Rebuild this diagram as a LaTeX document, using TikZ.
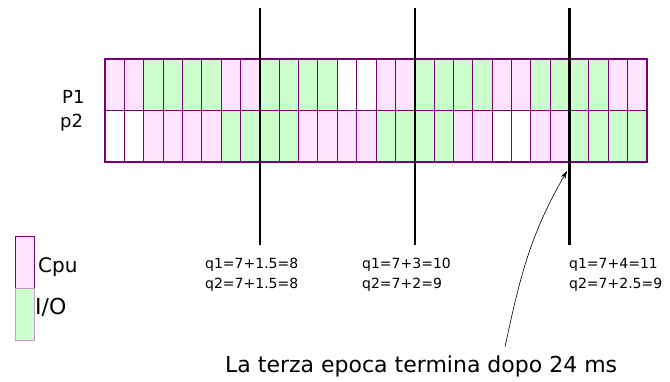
\documentclass[tikz,border=0pt]{standalone}
\usepackage{fontspec}
\setmainfont{DejaVu Sans}
\usepackage{xcolor}
\usetikzlibrary{arrows.meta}
\definecolor{cpurosa}{RGB}{255,228,255}
\definecolor{iover}{RGB}{204,255,204}
\definecolor{bordo}{RGB}{120,0,120}
\def\cella{19.357}
\def\alto{51.5}

\begin{document}
\begin{tikzpicture}[x=1pt, y=-1pt]
\tikzset{cpu/.style={fill=cpurosa}, io/.style={fill=iover},
  taglio/.style={line width=2.4pt, black},
  etich/.style={font=\fontsize{14}{20}\selectfont, align=left, anchor=north west, inner sep=0pt},
  grande/.style={font=\fontsize{20}{24}\selectfont, anchor=base west, inner sep=0pt}}
\useasboundingbox (0,0) rectangle (670,382);

% griglia dei processi
\begin{scope}[shift={(105,162)}, x=\cella pt, y=\alto pt]
% riga P1
    \fill[cpu] (0,1) rectangle (2,2);
    \fill[io]  (2,1) rectangle (6,2);
    \fill[cpu] (6,1) rectangle (8,2);
    \fill[io]  (8,1) rectangle (12,2);
    \fill[cpu] (14,1) rectangle (16,2);
    \fill[io]  (16,1) rectangle (20,2);
    \fill[cpu] (20,1) rectangle (22,2);
    \fill[io]  (22,1) rectangle (26,2);
    \fill[cpu] (26,1) rectangle (28,2);
% riga p2
    \fill[cpu] (2,0) rectangle (6,1);
    \fill[io]  (6,0) rectangle (10,1);
    \fill[cpu] (10,0) rectangle (14,1);
    \fill[io]  (14,0) rectangle (18,1);
    \fill[cpu] (18,0) rectangle (20,1);
    \fill[cpu] (22,0) rectangle (24,1);
    \fill[io]  (24,0) rectangle (28,1);
\draw[step=1, line width=0.9pt, bordo] (0,0) grid (28,2);
\draw[line width=2pt, bordo] (0,0) rectangle (28,2);
\end{scope}

    \node[grande, font=\fontsize{18}{22}\selectfont] (P1) at (62,104) {P1};
    \node[grande, font=\fontsize{18}{22}\selectfont] (p2) at (60,128) {p2};

% fine delle epoche
    \coordinate (taglio1su) at (259.9,8);
    \coordinate (taglio1giu) at (259.9,245);
    \coordinate (taglio2su) at (414.7,8);
    \coordinate (taglio2giu) at (414.7,245);
    \coordinate (taglio3su) at (569.6,8);
    \coordinate (taglio3giu) at (569.6,245);
    \draw[taglio] (taglio1su) -- (taglio1giu);
    \draw[taglio] (taglio2su) -- (taglio2giu);
    \draw[taglio] (taglio3su) -- (taglio3giu);

    \node[etich] (quanti1) at (205,258) {q1=7+1.5=8\\q2=7+1.5=8};
    \node[etich] (quanti2) at (362,258) {q1=7+3=10\\q2=7+2=9};
    \node[etich] (quanti3) at (569,258) {q1=7+4=11\\q2=7+2.5=9};

% legenda
    \filldraw[cpu, draw=bordo, line width=0.8pt] (15,236) rectangle (34,288);
    \filldraw[io, draw=bordo!40, line width=0.8pt] (15,288) rectangle (34,340);
    \node[grande] (cpulab) at (38,273) {Cpu};
    \node[grande, font=\fontsize{22}{26}\selectfont] (iolab) at (35,315) {I/O};

    \node[grande, font=\fontsize{22}{26}\selectfont] (epoca3) at (225,372) {La terza epoca termina dopo 24 ms};
    \coordinate (frecciada) at (505,347);
    \coordinate (frecciaa) at (567,171);
    \draw[-{Stealth[length=8pt, width=5pt]}, line width=0.6pt] (frecciada) to[out=78, in=240] (frecciaa);
\end{tikzpicture}
\end{document}
